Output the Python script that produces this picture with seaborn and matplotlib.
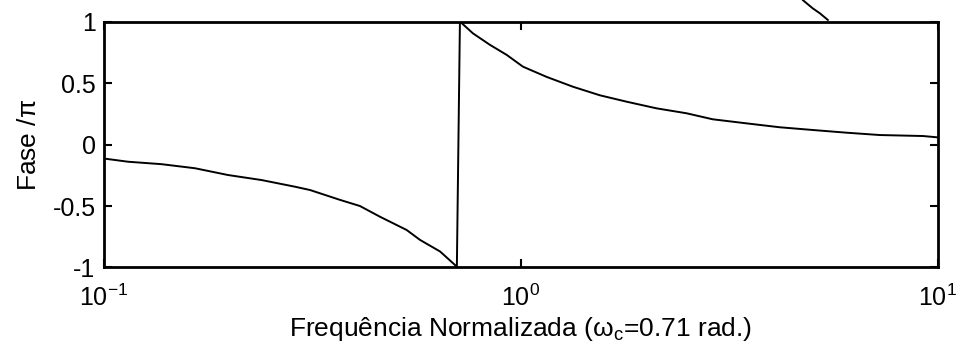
import numpy as np
import pandas as pd
import matplotlib
matplotlib.use("Agg")
import matplotlib.pyplot as plt
import seaborn as sns

# Normalised frequency (rad) and phase divided by pi
freq = [0.100, 0.1142, 0.1375, 0.1653, 0.1983, 0.2388, 0.287, 0.312, 0.368,
        0.411, 0.459, 0.532, 0.573, 0.640, 0.695, 0.702,
        0.714, 0.767, 0.843, 0.925, 1.011, 1.152, 1.332, 1.547, 1.793,
        2.115, 2.495, 2.884, 3.474, 4.18, 5.01, 6.04, 7.26, 9.21, 10.0]
phase = [-0.114, -0.14, -0.16, -0.193, -0.248, -0.289, -0.343, -0.37, -0.45,
         -0.50, -0.587, -0.695, -0.776, -0.87, -0.98, -1.0,
         1.0, 0.904, 0.81, 0.728, 0.633, 0.55, 0.47, 0.40, 0.348,
         0.294, 0.254, 0.205, 0.172, 0.14, 0.118, 0.096, 0.077, 0.069, 0.058]

# Tail of the magnitude curve from the panel above, spilling over the top edge
upper_freq = [4.70, 4.74, 5.01, 5.21, 5.45]
upper_vals = [1.20, 1.175, 1.107, 1.067, 1.012]

yticks = [-1, -0.5, 0, 0.5, 1]
ytick_labels = ["-1", "-0.5", "0", "0.5", "1"]
xticks = [0.1, 1, 10]

sns.set_theme(style="white")
plt.rcParams["font.family"] = ["Liberation Sans", "DejaVu Sans"]
plt.rcParams["mathtext.fontset"] = "custom"
plt.rcParams["mathtext.rm"] = "Liberation Sans"
plt.rcParams["mathtext.it"] = "Liberation Sans"
plt.rcParams["axes.unicode_minus"] = False

fig = plt.figure(figsize=(9.59, 3.51), dpi=100)
ax = fig.add_axes([0.1084, 0.2379, 0.978 - 0.1084, 0.9387 - 0.2379])

df = pd.DataFrame({"freq": freq, "phase": phase})
sns.lineplot(data=df, x="freq", y="phase", ax=ax, color="black",
             linewidth=1.4, estimator=None, sort=False)

up = pd.DataFrame({"freq": upper_freq, "val": upper_vals})
sns.lineplot(data=up, x="freq", y="val", ax=ax, color="black",
             linewidth=1.4, estimator=None, sort=False)
for ln in ax.lines[1:]:
    ln.set_clip_on(False)

ax.set_xscale("log")
ax.set_xlim(0.1, 10)
ax.set_ylim(-1, 1)
ax.set_xticks(xticks)
ax.xaxis.set_minor_locator(matplotlib.ticker.NullLocator())
ax.set_yticks(yticks)
ax.set_yticklabels(ytick_labels)

for s in ax.spines.values():
    s.set_linewidth(2.0)
    s.set_color("black")
    s.set_visible(True)

ax.tick_params(axis="both", which="major", direction="in", length=6, width=1.5,
               top=True, right=True, bottom=True, left=True,
               labelsize=18, colors="black", pad=6)
ax.tick_params(axis="x", pad=12)

ax.set_xlabel(r"Frequência Normalizada ($\mathregular{\omega_c}$=0.71 rad.)",
              fontsize=19, color="black", labelpad=3)
ax.set_ylabel(r"Fase /$\mathregular{\pi}$", fontsize=19, color="black", labelpad=8)

fig.savefig("out.png", dpi=100, facecolor="white")
